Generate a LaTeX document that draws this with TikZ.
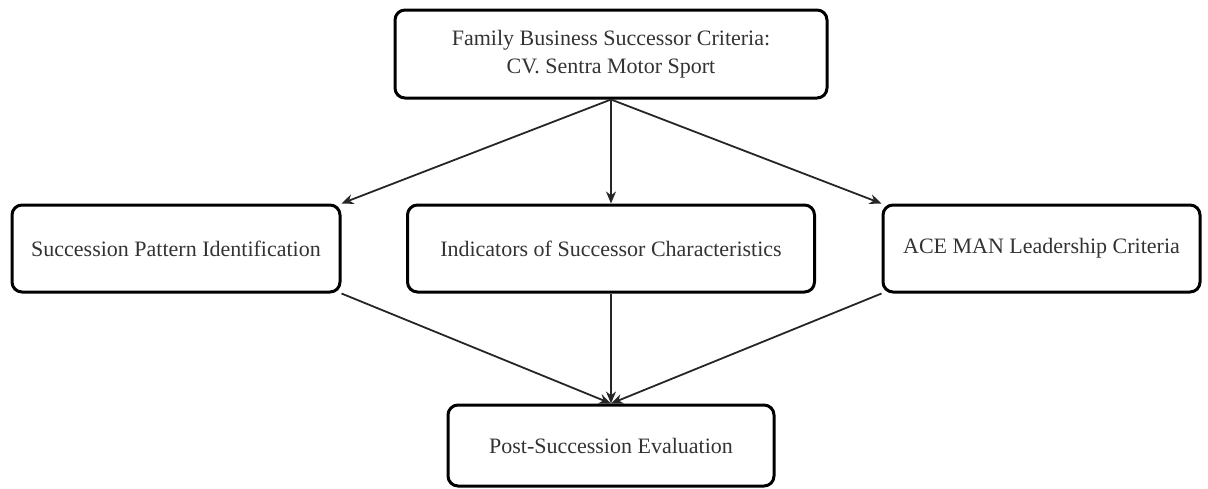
\documentclass[tikz,border=0pt]{standalone}
\usepackage{fontspec}
\setmainfont{Liberation Serif}
\usepackage{tikz}
\usetikzlibrary{positioning, arrows.meta}
\tikzset{
  box/.style={draw, line width=1.5pt, rounded corners=5pt, align=center,
    font=\fontsize{11}{14.2}\selectfont, text=black!80},
  flow/.style={-{Stealth[length=6pt,width=5pt]}, line width=0.9pt, draw=black!85}
}

\begin{document}
\begin{tikzpicture}[x=0.5pt, y=-0.5pt]
\useasboundingbox (0,0) rectangle (1208,488);
\node[box, minimum width=216pt, minimum height=44pt] (criteria) at (611,54) {Family Business Successor Criteria:\\ CV. Sentra Motor Sport};
\node[box, minimum width=164pt, minimum height=43.5pt] (pattern) at (176,248.5) {Succession Pattern Identification};
\node[box, minimum width=203.5pt, minimum height=43.5pt] (indicators) at (611,248.5) {Indicators of Successor Characteristics};
\node[box, minimum width=158.5pt, minimum height=43.5pt] (acemancrit) at (1041.5,248.5) {ACE MAN Leadership Criteria};
\node[box, minimum width=163pt, minimum height=40.5pt] (evaluation) at (611,445.5) {Post-Succession Evaluation};
%\node (dummy) [below=of evaluation] {};
\draw[flow] (criteria.south) -- (pattern.north east);
\draw[flow] (criteria.south) -- (indicators.north);
\draw[flow] (criteria.south) -- (acemancrit.north west);
\draw[flow] (pattern.south east) -- (evaluation.north);
\draw[flow] (indicators.south) -- (evaluation.north);
\draw[flow] (acemancrit.south west) -- (evaluation.north);
\end{tikzpicture}
\end{document}
